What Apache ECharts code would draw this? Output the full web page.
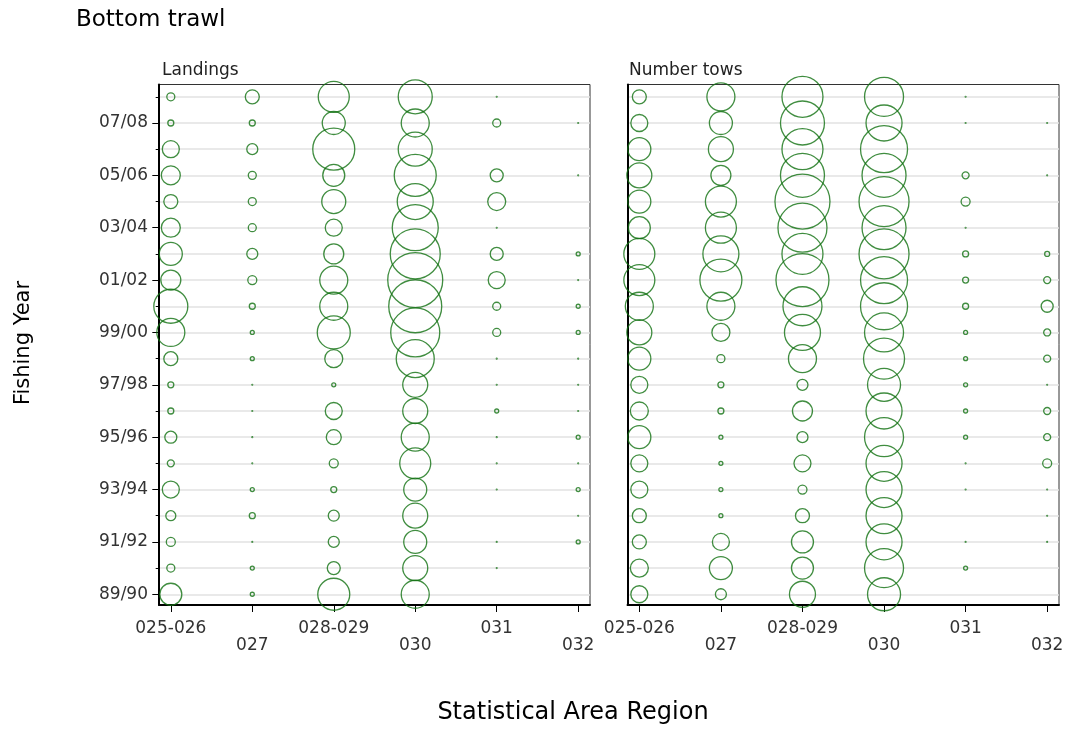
<!DOCTYPE html>
<html>
<head>
<meta charset="utf-8">
<script src="https://cdn.jsdelivr.net/npm/echarts@6/dist/echarts.min.js"></script>
<style>
  html, body { margin: 0; padding: 0; background: #fff; }
  #chart { width: 1067px; height: 729px; }
</style>
</head>
<body>
<div id="chart"></div>
<script>
// Fishing years, bottom row first
const years = ['89/90', '90/91', '91/92', '92/93', '93/94', '94/95', '95/96', '96/97', '97/98', '98/99',
               '99/00', '00/01', '01/02', '02/03', '03/04', '04/05', '05/06', '06/07', '07/08', '08/09'];
const areas = ['025-026', '027', '028-029', '030', '031', '032'];
const yearLabelIdx = [0, 2, 4, 6, 8, 10, 12, 14, 16, 18];

// Landings by statistical area region (relative scale), one value per fishing year
const landings025_026 = [529, 81, 100, 121, 324, 64, 169, 49, 49, 225, 841, 1225, 441, 576, 400, 225, 400, 324, 49, 81];
const landings027     = [25, 25, 1, 49, 25, 1, 1, 1, 1, 25, 25, 49, 100, 144, 81, 81, 81, 144, 49, 225];
const landings028_029 = [1089, 196, 144, 144, 49, 100, 256, 324, 25, 361, 1156, 841, 841, 441, 324, 625, 529, 1849, 576, 1024];
const landings030     = [841, 676, 576, 676, 576, 1024, 841, 676, 676, 1521, 2500, 2916, 3136, 2601, 2209, 1369, 1849, 1225, 841, 1225];
const landings031     = [0, 1, 1, 0, 1, 1, 0.25, 25, 1, 1, 81, 81, 324, 196, 1, 361, 196, 0, 81, 1];
const landings032     = [0, 0, 25, 1, 25, 1, 25, 1, 0.25, 1, 25, 25, 2.25, 25, 0, 0, 0.25, 0, 0.25, 0];

// Number of tows by statistical area region (relative scale)
const tows025_026 = [324, 361, 225, 225, 324, 324, 576, 361, 324, 576, 676, 841, 1024, 1024, 529, 576, 676, 576, 324, 225];
const tows027     = [144, 576, 324, 25, 25, 25, 25, 49, 49, 81, 361, 841, 1849, 1369, 1024, 1024, 441, 676, 576, 841];
const tows028_029 = [729, 529, 529, 225, 100, 324, 144, 441, 144, 841, 1369, 1600, 2916, 1764, 2500, 3136, 2025, 1764, 2025, 1764];
const tows030     = [1156, 1600, 1369, 1369, 1369, 1369, 1600, 1369, 1156, 1764, 1600, 2304, 2304, 2601, 2025, 2601, 2025, 2304, 1369, 1600];
const tows031     = [0, 25, 1, 0, 1, 1, 25, 25, 25, 25, 25, 49, 49, 49, 1, 100, 64, 0, 1, 1];
const tows032     = [0, 0, 1, 1, 1, 100, 64, 64, 1, 64, 64, 169, 64, 36, 0, 0, 1, 0, 1, 0];

const landingsCols = [landings025_026, landings027, landings028_029, landings030, landings031, landings032];
const towsCols = [tows025_026, tows027, tows028_029, tows030, tows031, tows032];

const FONT = 'DejaVu Sans';
const GREEN = '#107010';
const allRows = years.map((_, i) => i);
const areaIdx = areas.map((_, i) => i);

function toPoints(cols) {
  const pts = [];
  cols.forEach((col, xi) => col.forEach((v, yi) => { if (v > 0) pts.push([xi, yi, v]); }));
  return pts;
}

function xAxisFor(gridIndex) {
  return {
    type: 'value', gridIndex: gridIndex, min: -0.145, max: 5.145, position: 'bottom',
    axisLine: { show: true, onZero: false, lineStyle: { color: '#000', width: 2 } },
    axisTick: { show: true, customValues: areaIdx, length: 7, lineStyle: { color: '#000', width: 1 } },
    axisLabel: {
      show: true, customValues: areaIdx, margin: 14.5,
      fontFamily: FONT, fontSize: 17, color: '#333', lineHeight: 17.5,
      formatter: v => (Math.round(v) % 2 ? '\n' : '') + areas[Math.round(v)]
    },
    splitLine: { show: false }
  };
}

function yAxisBase(gridIndex) {
  return {
    type: 'value', gridIndex: gridIndex, min: -0.41, max: 19.47, position: 'left',
    axisLine: { show: true, onZero: false, lineStyle: { color: '#000', width: 2 } },
    axisTick: { show: gridIndex === 0, customValues: allRows, length: 3.3, lineStyle: { color: '#000' } },
    axisLabel: { show: false },
    splitLine: { show: true, lineStyle: { color: '#e2e2e2', width: 1.5 } }
  };
}

function bubbleSeries(cols, axisIndex) {
  return {
    type: 'scatter', xAxisIndex: axisIndex, yAxisIndex: axisIndex === 0 ? 0 : 2,
    data: toPoints(cols), clip: false, silent: true,
    symbol: 'circle',
    symbolSize: d => Math.max(0.8, Math.sqrt(d[2]) - 1),
    itemStyle: { color: 'rgba(0,0,0,0)', borderColor: GREEN, borderWidth: 1.3 },
    emphasis: { disabled: true }
  };
}

const chart = echarts.init(document.getElementById('chart'), null, { renderer: 'canvas' });

chart.setOption({
  animation: false,
  backgroundColor: '#fff',
  grid: [
    { left: 159, top: 84.5, width: 431, height: 520.5, show: true, borderColor: '#333', borderWidth: 1, backgroundColor: '#fff' },
    { left: 627.5, top: 84.5, width: 431.5, height: 520.5, show: true, borderColor: '#333', borderWidth: 1, backgroundColor: '#fff' }
  ],
  xAxis: [xAxisFor(0), xAxisFor(1)],
  yAxis: [
    yAxisBase(0),
    {
      // longer ticks and year labels on every second row
      type: 'value', gridIndex: 0, min: -0.41, max: 19.47, position: 'left',
      axisLine: { show: false, onZero: false },
      axisTick: { show: true, customValues: yearLabelIdx, length: 6.7, lineStyle: { color: '#000' } },
      axisLabel: {
        show: true, customValues: yearLabelIdx, margin: 11,
        fontFamily: FONT, fontSize: 17, color: '#333',
        formatter: v => years[Math.round(v)]
      },
      splitLine: { show: false }
    },
    yAxisBase(1)
  ],
  series: [bubbleSeries(landingsCols, 0), bubbleSeries(towsCols, 1)],
  graphic: [
    { type: 'text', x: 76, y: 20.5, style: { text: 'Bottom trawl', fontFamily: FONT, fontSize: 23, fill: '#000', verticalAlign: 'middle' } },
    { type: 'text', x: 162, y: 71, style: { text: 'Landings', fontFamily: FONT, fontSize: 17, fill: '#222', verticalAlign: 'middle' } },
    { type: 'text', x: 629, y: 71, style: { text: 'Number tows', fontFamily: FONT, fontSize: 17, fill: '#222', verticalAlign: 'middle' } },
    { type: 'text', x: 24, y: 343, rotation: Math.PI / 2, style: { text: 'Fishing Year', fontFamily: FONT, fontSize: 21, fill: '#000', align: 'center', verticalAlign: 'middle' } },
    { type: 'text', x: 573, y: 712.5, style: { text: 'Statistical Area Region', fontFamily: FONT, fontSize: 24, fill: '#000', align: 'center', verticalAlign: 'middle' } }
  ]
});
</script>
</body>
</html>
